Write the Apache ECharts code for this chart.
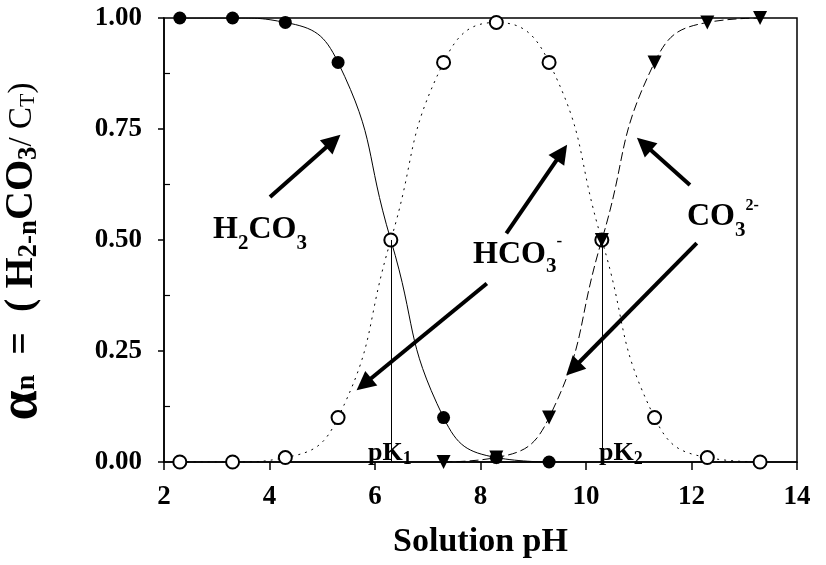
<!DOCTYPE html>
<html>
<head>
<meta charset="utf-8">
<script src="https://cdn.jsdelivr.net/npm/echarts@6/dist/echarts.min.js"></script>
<style>html,body{margin:0;padding:0;background:#fff}#c{width:826px;height:565px}</style>
</head>
<body>
<div id="c"></div>
<script>
// ---- data ----
const pH_H2CO3 = [2.3, 3.3, 4.3, 5.3, 6.3, 7.3, 8.3, 9.3];
const alpha_H2CO3 = [1.00, 1.00, 0.99, 0.90, 0.50, 0.10, 0.01, 0.00];
const pH_HCO3 = [2.3, 3.3, 4.3, 5.3, 6.3, 7.3, 8.3, 9.3, 10.3, 11.3, 12.3, 13.3];
const alpha_HCO3 = [0.00, 0.00, 0.01, 0.10, 0.50, 0.90, 0.99, 0.90, 0.50, 0.10, 0.01, 0.00];
const pH_CO3 = [7.3, 8.3, 9.3, 10.3, 11.3, 12.3, 13.3];
const alpha_CO3 = [0.00, 0.01, 0.10, 0.50, 0.90, 0.99, 1.00];
const pKvalues = [6.3, 10.3];
const pKalpha = 0.5;
const yMinorTicks = [0.125, 0.375, 0.625, 0.875];
// annotation arrows [tail, head] in data units
const arrows = [
  [[4.01, 0.597], [5.21, 0.723]],
  [[8.49, 0.515], [9.54, 0.697]],
  [[8.12, 0.402], [5.79, 0.175]],
  [[11.97, 0.624], [11.10, 0.716]],
  [[12.10, 0.493], [9.75, 0.210]]
];

const FF = "'Liberation Serif','Times New Roman',serif";
const zip = (xs, ys) => xs.map((x, i) => [x, ys[i]]);

const chart = echarts.init(document.getElementById('c'), null, {renderer: 'canvas'});

const main = (fs, w) => ({fontSize: fs, fontWeight: w || 'bold', fontFamily: FF, fill: '#000', lineHeight: fs, verticalAlign: 'middle'});
const sub = (fs, p, w) => ({fontSize: fs, fontWeight: w || 'bold', fontFamily: FF, fill: '#000', lineHeight: fs, verticalAlign: 'middle', padding: [p, 0, 0, 0]});
const sup = (fs, p, w) => ({fontSize: fs, fontWeight: w || 'bold', fontFamily: FF, fill: '#000', lineHeight: fs, verticalAlign: 'middle', padding: [0, 0, p, 0]});

function label(x, y, text, rich, rot) {
  return {type: 'text', x: x, y: y, rotation: rot || 0, z: 100,
    style: {text: text, rich: rich, align: rot ? 'center' : 'left', verticalAlign: 'middle', fill: '#000',
      fontSize: 30, fontFamily: FF, fontWeight: 'bold'}};
}

const option = {
  animation: false,
  backgroundColor: '#fff',
  grid: {left: 164, right: 29, top: 18, bottom: 103, show: true, borderColor: '#000', borderWidth: 1.5, backgroundColor: 'transparent'},
  xAxis: {
    type: 'value', min: 2, max: 14, interval: 2,
    axisLine: {show: true, onZero: false, lineStyle: {color: '#000', width: 1.5}},
    axisTick: {show: true, inside: false, length: 8, lineStyle: {color: '#000', width: 1.5}},
    splitLine: {show: false},
    axisLabel: {color: '#000', fontFamily: FF, fontWeight: 'bold', fontSize: 27, margin: 22},
    name: 'Solution pH', nameLocation: 'middle', nameGap: 63,
    nameTextStyle: {color: '#000', fontFamily: FF, fontWeight: 'bold', fontSize: 34}
  },
  yAxis: [{
    type: 'value', min: 0, max: 1, interval: 0.25,
    axisLine: {show: true, onZero: false, lineStyle: {color: '#000', width: 1.5}},
    axisTick: {show: true, inside: false, length: 6, lineStyle: {color: '#000', width: 1.5}},
    splitLine: {show: false},
    axisLabel: {color: '#000', fontFamily: FF, fontWeight: 'bold', fontSize: 27, margin: 22, formatter: v => v.toFixed(2)}
  }, {
    type: 'value', min: 0, max: 1, position: 'left',
    axisLine: {show: false},
    axisTick: {show: true, inside: true, length: 6, customValues: yMinorTicks, lineStyle: {color: '#000', width: 1.2}},
    axisLabel: {show: false},
    splitLine: {show: false}
  }],
  series: [
    {
      name: 'H2CO3', type: 'line', data: zip(pH_H2CO3, alpha_H2CO3), smooth: 0.5,
      symbol: 'circle', symbolSize: 13, itemStyle: {color: '#000'},
      lineStyle: {color: '#000', width: 1}, z: 3,
      markLine: {
        silent: true, symbol: 'none', label: {show: false},
        lineStyle: {color: '#000', width: 1, type: 'solid'},
        data: pKvalues.map(k => [{coord: [k, 0]}, {coord: [k, pKalpha]}])
      }
    },
    {
      name: 'HCO3-', type: 'line', data: zip(pH_HCO3, alpha_HCO3), smooth: 0.5,
      symbol: 'emptyCircle', symbolSize: 13, itemStyle: {color: '#000', borderWidth: 1},
      lineStyle: {color: '#000', width: 1, type: [2, 5]}, z: 4
    },
    {
      name: 'CO3 2-', type: 'line', data: zip(pH_CO3, alpha_CO3), smooth: 0.5,
      symbol: 'triangle', symbolRotate: 180, symbolSize: 14, itemStyle: {color: '#000'},
      lineStyle: {color: '#000', width: 1, type: [9, 4]}, z: 5,
      markLine: {
        silent: true, symbol: ['none', 'triangle'], symbolSize: 19, label: {show: false},
        itemStyle: {color: '#000'},
        lineStyle: {color: '#000', width: 4, type: 'solid'},
        data: arrows.map(a => [{coord: a[0], symbol: 'none'}, {coord: a[1], symbol: 'triangle', symbolSize: 19}])
      }
    }
  ],
  graphic: [
    label(213, 229.8, '{m|H}{s|2}{m|CO}{s|3}', {m: main(32), s: sub(21, 27)}),
    label(473, 254.8, '{m|HCO}{s|3}{p|-}', {m: main(32), s: sub(21, 23), p: sup(17, 26)}),
    label(687, 216.5, '{m|CO}{s|3}{p|2-}', {m: main(32), s: sub(21, 29), p: sup(16, 21)}),
    label(368, 452.9, '{m|pK}{s|1}', {m: main(26), s: sub(18, 12)}),
    label(599, 452.9, '{m|pK}{s|2}', {m: main(26), s: sub(18, 12)}),
    label(22, 251.5, '{a|α}{n|n}{m|  =  ( H}{s|2-n}{m|CO}{s|3}{r|/ C}{t|T}{r|)}',
      {a: main(54), n: sub(28, 9), m: main(40), s: sub(27, 15), r: main(33, 'normal'), t: sub(22, 13, 'normal')}, Math.PI / 2)
  ]
};
chart.setOption(option);
</script>
</body>
</html>
